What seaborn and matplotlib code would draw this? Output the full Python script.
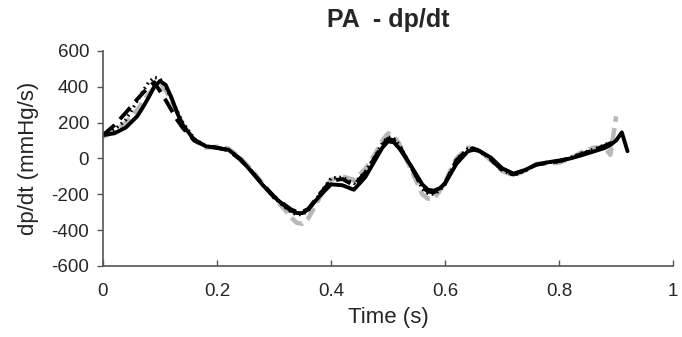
import numpy as np
import pandas as pd
import matplotlib.pyplot as plt
import seaborn as sns

# time (s)
t = [0.0, 0.02, 0.04, 0.06, 0.07, 0.08, 0.09, 0.10, 0.11, 0.12,
     0.13, 0.14, 0.16, 0.18, 0.20, 0.22, 0.24, 0.26, 0.28, 0.30,
     0.32, 0.33, 0.34, 0.35, 0.36, 0.38, 0.40, 0.42, 0.44, 0.46,
     0.48, 0.49, 0.50, 0.51, 0.52, 0.54, 0.56, 0.57, 0.58, 0.59,
     0.60, 0.62, 0.64, 0.65, 0.66, 0.68, 0.70, 0.72, 0.74, 0.76,
     0.78, 0.80, 0.82, 0.84, 0.86, 0.88, 0.89, 0.90, 0.91, 0.92]

# dp/dt (mmHg/s) for each trace
solid = [130, 140, 172, 235, 285, 340, 400, 432, 410, 340,
         255, 185, 105, 68, 58, 48, 0, -72, -148, -215,
         -268, -292, -305, -305, -285, -210, -145, -150, -175, -105,
         5, 60, 95, 90, 55, -40, -145, -175, -180, -168,
         -140, -30, 40, 48, 42, 5, -55, -85, -65, -35,
         -22, -12, 0, 18, 38, 58, 75, 100, 145, 40]
dashed = [130, 185, 255, 330, 365, 398, 425, 375, 325, 270,
          215, 170, 100, 70, 60, 45, -5, -70, -145, -212,
          -262, -285, -298, -298, -282, -200, -125, -115, -150, -80,
          20, 75, 110, 100, 68, -45, -160, -185, -190, -172,
          -138, -10, 50, 55, 42, -5, -65, -90, -65, -35,
          -25, -15, 0, 25, 45, 70, 85, 95, np.nan, np.nan]
dotted = [130, 160, 215, 320, 375, 425, 452, 445, 400, 335,
          265, 200, 110, 70, 60, 48, -2, -72, -148, -220,
          -275, -300, -315, -312, -292, -200, -110, -105, -140, -75,
          25, 85, 120, 110, 75, -45, -170, -195, -200, -180,
          -145, -5, 55, 58, 45, -5, -65, -95, -70, -35,
          -20, -20, 5, 30, 50, 75, 90, np.nan, np.nan, np.nan]
gray = [120, 150, 200, 270, 315, 360, 395, 405, 380, 325,
        260, 190, 100, 60, 65, 55, 5, -60, -140, -220,
        -290, -330, -360, -365, -335, -220, -120, -100, -120, -60,
        40, 100, 140, 125, 80, -60, -200, -225, -225, -185,
        -130, 0, 60, 55, 40, -10, -70, -95, -70, -30,
        -25, -25, 0, 35, 60, 60, 20, 235, np.nan, np.nan]

sns.set_style('white')
plt.rcParams['font.family'] = ['Liberation Sans', 'DejaVu Sans']
plt.rcParams['axes.unicode_minus'] = False

fig, ax = plt.subplots(figsize=(6.82, 3.37), dpi=100)
plt.subplots_adjust(left=0.151, right=0.987, top=0.849, bottom=0.211)

df = pd.DataFrame({'t': t, 'solid': solid, 'dashed': dashed,
                   'dotted': dotted, 'gray': gray})

sns.lineplot(data=df, x='t', y='gray', color='#b8b8b8', linewidth=3.2,
             ax=ax, sort=False).lines[-1].set_dashes([3, 1.4])
sns.lineplot(data=df, x='t', y='solid', color='black', linewidth=2.8, ax=ax, sort=False)
sns.lineplot(data=df, x='t', y='dashed', color='black', linewidth=2.8, ax=ax,
             sort=False).lines[-1].set_dashes([4, 2])
sns.lineplot(data=df, x='t', y='dotted', color='black', linewidth=2.4, ax=ax,
             sort=False).lines[-1].set_dashes([0.5, 1.1])

ax.set_xlim(0, 1)
ax.set_ylim(-600, 600)
ax.set_xticks([0, 0.2, 0.4, 0.6, 0.8, 1])
ax.set_xticklabels(['0', '0.2', '0.4', '0.6', '0.8', '1'])
ax.set_yticks(np.arange(-600, 601, 200))
ax.set_title('PA  - dp/dt', fontsize=18, fontweight='bold', pad=17)
ax.set_xlabel('Time (s)', fontsize=16, labelpad=5)
ax.set_ylabel('dp/dt (mmHg/s)', fontsize=16, labelpad=9)

for s in ['top', 'right']:
    ax.spines[s].set_visible(False)
for s in ['left', 'bottom']:
    ax.spines[s].set_color('#555555')
    ax.spines[s].set_linewidth(1.2)
ax.tick_params(axis='y', direction='out', length=4, width=1, color='#555555',
               labelsize=13.5, left=True, pad=6)
ax.tick_params(axis='x', direction='in', length=4, width=1, color='#555555',
               labelsize=13.5, bottom=True, pad=12)

plt.savefig('out.png', dpi=100)
plt.close()
